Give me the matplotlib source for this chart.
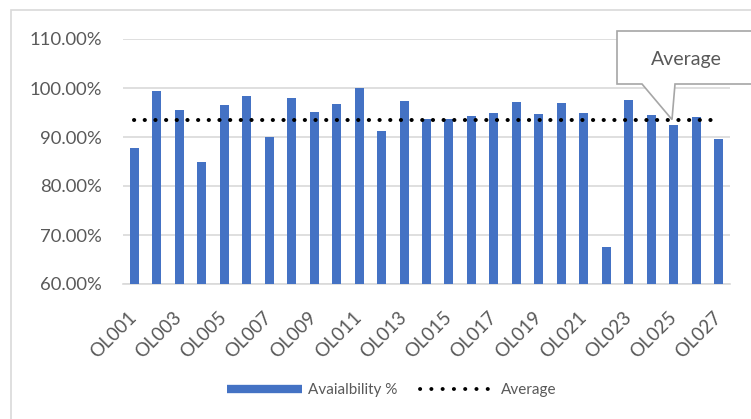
import numpy as np
import matplotlib
matplotlib.use("Agg")
import matplotlib.pyplot as plt
from matplotlib.patches import Polygon, Rectangle
from matplotlib.lines import Line2D

plt.rcParams['font.family'] = ['Lato', 'DejaVu Sans']

# Availability per outlet (fraction)
outlets = [f"OL{i:03d}" for i in range(1, 28)]
availability = [0.878, 0.9945, 0.956, 0.849, 0.965, 0.9845, 0.899, 0.979, 0.950,
                0.968, 0.9995, 0.913, 0.973, 0.936, 0.936, 0.942, 0.949, 0.971,
                0.946, 0.969, 0.948, 0.676, 0.976, 0.944, 0.924, 0.940, 0.895]
average = float(np.mean(availability))
y_ticks = [0.6, 0.7, 0.8, 0.9, 1.0, 1.1]

TEXT = '#595959'
GRID = '#d9d9d9'
BLUE = '#4472C4'

fig = plt.figure(figsize=(7.51, 4.19), dpi=100)
W, H = 751, 419

# outer chart frame
fig.patches.append(Rectangle((11 / W, -0.1), 1.2, 1 - 10 / H + 0.1, transform=fig.transFigure,
                             fill=False, edgecolor=GRID, lw=1.2))

ax = fig.add_axes([123 / W, 1 - 284 / H, (730 - 123) / W, (284 - 39) / H])
x = np.arange(len(outlets))
bars = ax.bar(x, availability, width=0.4, color=BLUE, zorder=2, label='Avaialbility %')
avg_line, = ax.plot(x, [average] * len(x), color='black', lw=2.9,
                    ls=(0, (0.05, 2.6)), dash_capstyle='round', zorder=3, label='Average')

ax.set_xlim(-0.5, len(outlets) - 0.5)
ax.set_ylim(0.6, 1.1)
ax.set_yticks(y_ticks)
ax.set_yticklabels([f"{v * 100:.2f}%" for v in y_ticks])
ax.set_xticks(x[::2])
ax.set_xticklabels(outlets[::2], rotation=45, ha='right', va='center', rotation_mode='anchor')
ax.tick_params(axis='both', length=0, colors=TEXT)
ax.tick_params(axis='y', labelsize=13.3, pad=15)
ax.tick_params(axis='x', labelsize=13.5, pad=22)
ax.grid(axis='y', color=GRID, lw=1.2, zorder=0)
for side in ['left', 'right', 'top']:
    ax.spines[side].set_visible(False)
ax.spines['bottom'].set_color(GRID)
ax.spines['bottom'].set_linewidth(1.2)
ax.spines['bottom'].set_zorder(1)

# legend
bar_handle = Line2D([], [], color=BLUE, lw=6, solid_capstyle='butt')
avg_handle = Line2D([], [], color='black', lw=2.8, ls=(0, (0.05, 2.85)), dash_capstyle='round')
leg = fig.legend([bar_handle, avg_handle], ['Avaialbility %', 'Average'],
                 loc='center', bbox_to_anchor=(392 / W, 1 - 390 / H), ncol=2,
                 frameon=False, fontsize=11, handlelength=4.9, handletextpad=0.4,
                 columnspacing=1.5)
for t in leg.get_texts():
    t.set_color(TEXT)

# callout pointing at the average line
fig.canvas.draw()
tip_px = ax.transData.transform((23.92, average))
tip = fig.transFigure.inverted().transform(tip_px)
box_l, box_r = 617 / W, 1.05
box_t, box_b = 1 - 31 / H, 1 - 84 / H
base_l, base_r = 642 / W, 675 / W
callout = Polygon([(box_l, box_t), (box_r, box_t), (box_r, box_b), (base_r, box_b),
                   tuple(tip), (base_l, box_b), (box_l, box_b)], closed=True,
                  transform=fig.transFigure, facecolor='white', edgecolor='#a6a6a6',
                  lw=1.2, zorder=5)
fig.patches.append(callout)
fig.text(686 / W, 1 - 59 / H, 'Average', ha='center', va='center', fontsize=14,
         color=TEXT, zorder=6)

fig.savefig('out.png', dpi=100)
